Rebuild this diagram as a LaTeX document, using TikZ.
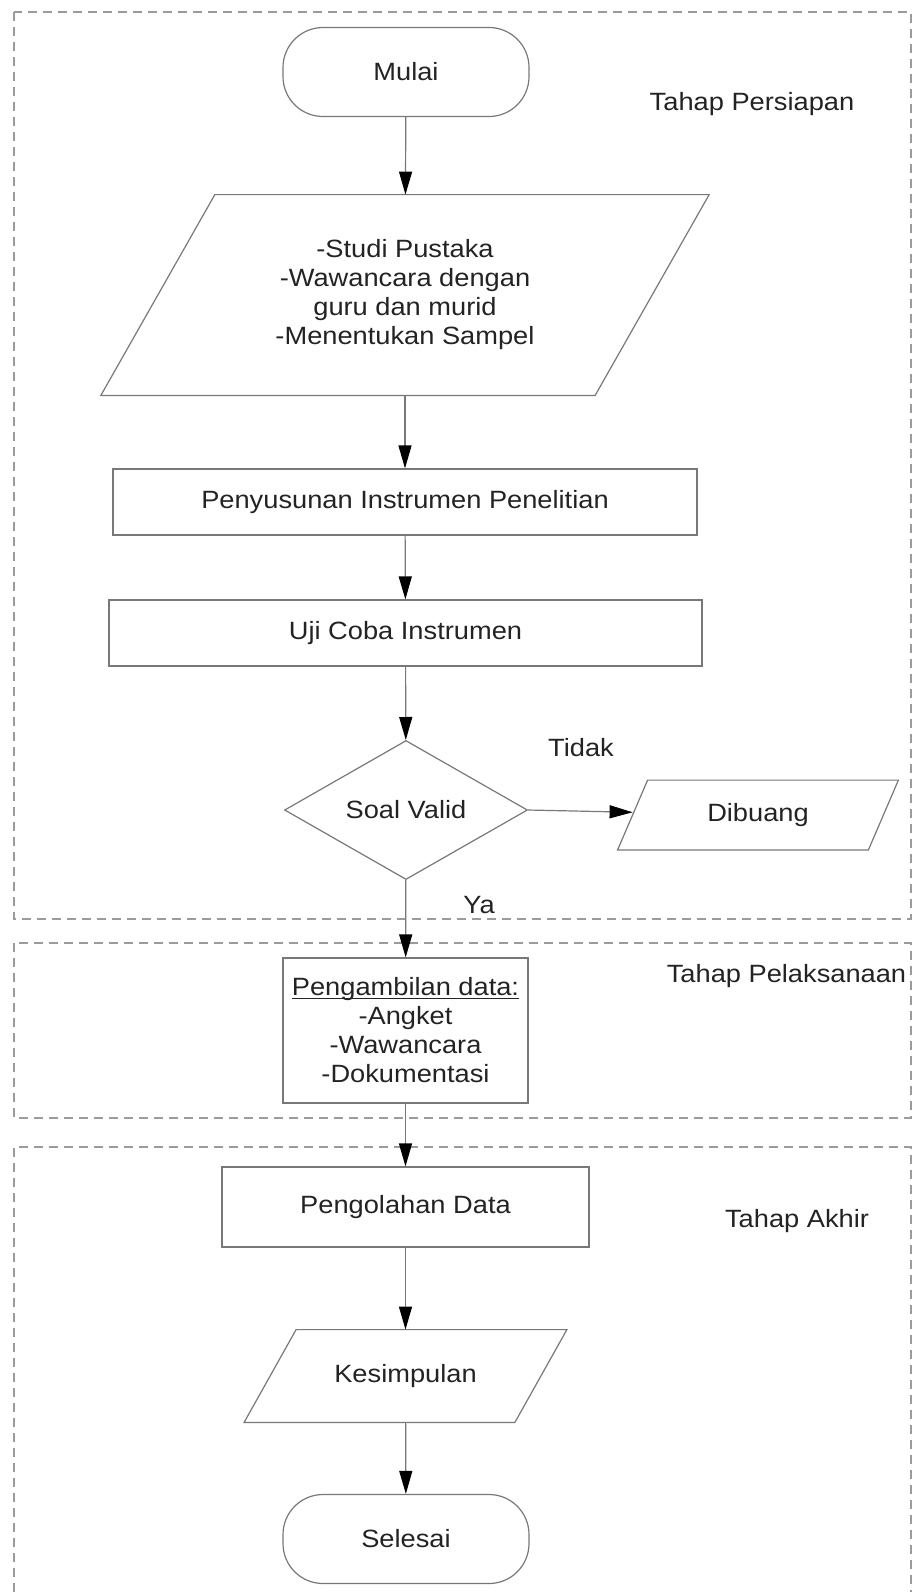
\documentclass[tikz,border=0pt]{standalone}
\usepackage{fontspec}
\setmainfont{Liberation Sans}[FakeStretch=1.09]
\usetikzlibrary{shapes.geometric,arrows.meta}
\definecolor{garis}{RGB}{120,120,120}
\definecolor{putus}{RGB}{155,155,155}
\definecolor{teks}{RGB}{35,35,35}
\newcommand\garisbawah[1]{{\setbox0\hbox{#1}\rlap{\rule[-1.6pt]{\wd0}{0.6pt}}\box0}}
\newcommand\jajargenjang[2]{\draw [bingkai] ([xshift=#2]#1.north west) -- ([xshift=#2]#1.north east) -- ([xshift=-#2]#1.south east) -- ([xshift=-#2]#1.south west) -- cycle;}
\tikzset{
  every node/.style={font=\fontsize{12.5}{14.5}\selectfont, text=teks},
  bingkai/.style={draw=garis, line width=0.6pt},
  proses/.style={bingkai, rectangle, align=center},
  terminal/.style={bingkai, rectangle, rounded corners=20pt, minimum width=123pt, minimum height=44.5pt},
  masukan/.style={rectangle, align=center},
  keputusan/.style={bingkai, diamond, minimum width=121.5pt, minimum height=65pt, inner sep=0pt},
  panah/.style={draw=garis, line width=0.6pt, -{Triangle[length=11.5pt,width=6.5pt,color=black]}},
  tahap/.style={draw=putus, line width=1pt, dash pattern=on 4.5pt off 3pt},
}
\begin{document}
\begin{tikzpicture}[x=0.5pt,y=-0.5pt]
  \useasboundingbox (0,0) rectangle (914,1592);
  \draw [tahap] (14,12) rectangle (911,919);
  \draw [tahap] (14,943) rectangle (911,1118);
  \draw [tahap] (14,1592) -- (14,1147) -- (911,1147) -- (911,1592);

  \node (mulai) [terminal] at (406,72) {Mulai};
  \node (studi) [masukan, minimum width=246.75pt, minimum height=100pt] at (405,295) {-Studi Pustaka\\-Wawancara dengan\\guru dan murid\\-Menentukan Sampel};
  \jajargenjang{studi}{28.5pt}
  \node (susun) [proses, minimum width=292pt, minimum height=33pt] at (405,502) {Penyusunan Instrumen Penelitian};
  \node (uji) [proses, minimum width=296.5pt, minimum height=33pt] at (405.5,633) {Uji Coba Instrumen};
  \node (valid) [keputusan] at (406,810) {Soal Valid};
  \node (buang) [masukan, minimum width=125pt, minimum height=34.5pt] at (758,815) {Dibuang};
  \jajargenjang{buang}{7.5pt}
  \node (ambil) [proses, minimum width=122.5pt, minimum height=72.5pt] at (405.5,1030.5) {\garisbawah{Pengambilan data:}\\-Angket\\-Wawancara\\-Dokumentasi};
  \node (olah) [proses, minimum width=183.5pt, minimum height=40pt] at (405.5,1207) {Pengolahan Data};
  \node (simpul) [masukan, minimum width=135pt, minimum height=46pt] at (405.5,1376) {Kesimpulan};
  \jajargenjang{simpul}{13pt}
  \node (selesai) [terminal] at (406,1539) {Selesai};

  \node (persiapan) at (752,104) {Tahap Persiapan};
  \node (pelaksanaan) at (786.5,976) {Tahap Pelaksanaan};
  \node (akhir) at (797,1221) {Tahap Akhir};
  \node (tidak) at (581,748) {Tidak};
  \node (ya) at (479,905) {Ya};

  \draw [panah] (mulai) -- (studi);
  \draw [panah] (studi) -- (susun);
  \draw [panah] (susun) -- (uji);
  \draw [panah] (uji) -- (valid);
  \draw [panah] (valid.east) -- (buang);
  \draw [panah] (valid) -- (ambil);
  \draw [panah] (ambil) -- (olah);
  \draw [panah] (olah) -- (simpul);
  \draw [panah] (simpul) -- (selesai);
\end{tikzpicture}
\end{document}
